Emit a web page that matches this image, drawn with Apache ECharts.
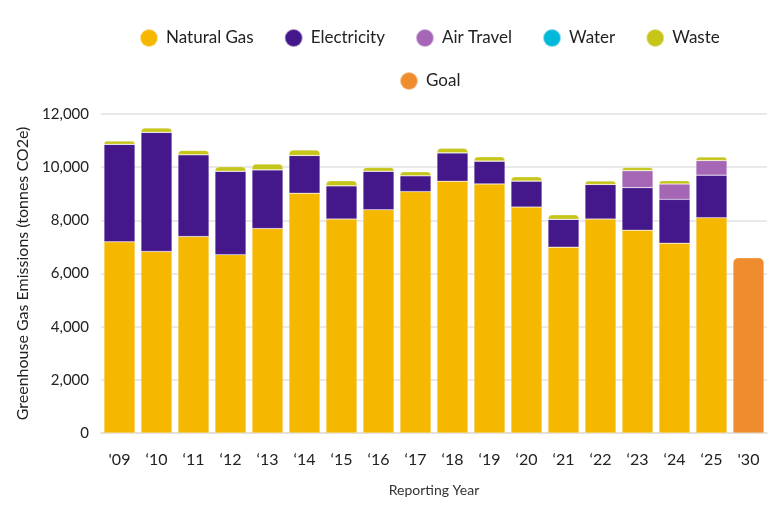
<!DOCTYPE html>
<html>
<head>
<meta charset="utf-8">
<script src="https://cdn.jsdelivr.net/npm/echarts@6/dist/echarts.min.js"></script>
<style>
  html, body { margin: 0; padding: 0; background: #fff; }
  #main { width: 782px; height: 516px; }
</style>
</head>
<body>
<div id="main"></div>
<script>
var years = ["'09", '\u201810', '\u201811', '\u201812', '\u201813', '\u201814', '\u201815', '\u201816', '\u201817',
             '\u201818', '\u201819', '\u201820', '\u201821', '\u201822', '\u201823', '\u201824', '\u201825', "'30"];
var naturalGas  = [7190, 6830, 7390, 6710, 7690, 9020, 8050, 8400, 9080, 9470, 9370, 8500, 6990, 8050, 7630, 7140, 8100, '-'];
var electricity = [3670, 4480, 3080, 3140, 2210, 1420, 1250, 1450, 600, 1070, 860, 980, 1050, 1300, 1600, 1650, 1600, '-'];
var airTravel   = [0, 0, 0, 0, 0, 0, 0, 0, 0, 0, 0, 0, 0, 0, 640, 580, 550, '-'];
var water       = [0, 0, 0, 0, 0, 0, 0, 0, 0, 0, 0, 0, 0, 0, 0, 0, 0, '-'];
var waste       = [120, 160, 160, 170, 220, 210, 190, 140, 150, 170, 160, 160, 170, 130, 120, 120, 130, '-'];
var goal        = ['-', '-', '-', '-', '-', '-', '-', '-', '-', '-', '-', '-', '-', '-', '-', '-', '-', 6590];

var myChart = echarts.init(document.getElementById('main'));
var fontFamily = 'Lato, "Open Sans", sans-serif';

function stackBar(name, data, color, radius) {
    return {
        name: name,
        type: 'bar',
        stack: 'total',
        barWidth: 31,
        data: data,
        itemStyle: {
            color: color,
            borderColor: 'rgba(255,255,255,0.5)',
            borderWidth: 0.5,
            borderRadius: radius || 0
        }
    };
}

var option = {
    textStyle: { fontFamily: fontFamily },
    legend: [
        {
            data: ['Natural Gas', 'Electricity', 'Air Travel', 'Water', 'Waste'],
            top: 23,
            left: 134,
            icon: 'circle',
            itemWidth: 18,
            itemHeight: 18,
            itemGap: 30,
            textStyle: { fontSize: 17, color: '#222', fontFamily: fontFamily, padding: [0, 0, 0, 3] }
        },
        {
            data: ['Goal'],
            top: 66,
            left: 394,
            icon: 'circle',
            itemWidth: 18,
            itemHeight: 18,
            textStyle: { fontSize: 17, color: '#222', fontFamily: fontFamily, padding: [0, 0, 0, 3] }
        }
    ],
    grid: {
        left: 101,
        right: 15,
        top: 114,
        bottom: 83
    },
    xAxis: {
        type: 'category',
        data: years,
        name: 'Reporting Year',
        nameLocation: 'middle',
        nameGap: 50,
        nameTextStyle: { fontSize: 14, color: '#333' },
        axisTick: { show: false },
        axisLine: { lineStyle: { color: '#ddd', width: 1.5 } },
        axisLabel: { fontSize: 16, color: '#222', margin: 19 }
    },
    yAxis: {
        type: 'value',
        min: 0,
        max: 12000,
        interval: 2000,
        name: 'Greenhouse Gas Emissions (tonnes CO2e)',
        nameLocation: 'middle',
        nameGap: 70,
        nameTextStyle: { fontSize: 16, color: '#222' },
        axisLabel: {
            fontSize: 15,
            color: '#222',
            margin: 12,
            formatter: function (v) { return v.toLocaleString('en-US'); }
        },
        splitLine: { lineStyle: { color: '#e2e2e2', width: 1.5 } }
    },
    series: [
        stackBar('Natural Gas', naturalGas, '#f5b700'),
        stackBar('Electricity', electricity, '#44178a'),
        stackBar('Air Travel', airTravel, '#a466b5'),
        stackBar('Water', water, '#00b8d9'),
        stackBar('Waste', waste, '#c5c51a', [4, 4, 0, 0]),
        stackBar('Goal', goal, '#ef8c2e', [5, 5, 0, 0])
    ]
};
myChart.setOption(option);
</script>
</body>
</html>
